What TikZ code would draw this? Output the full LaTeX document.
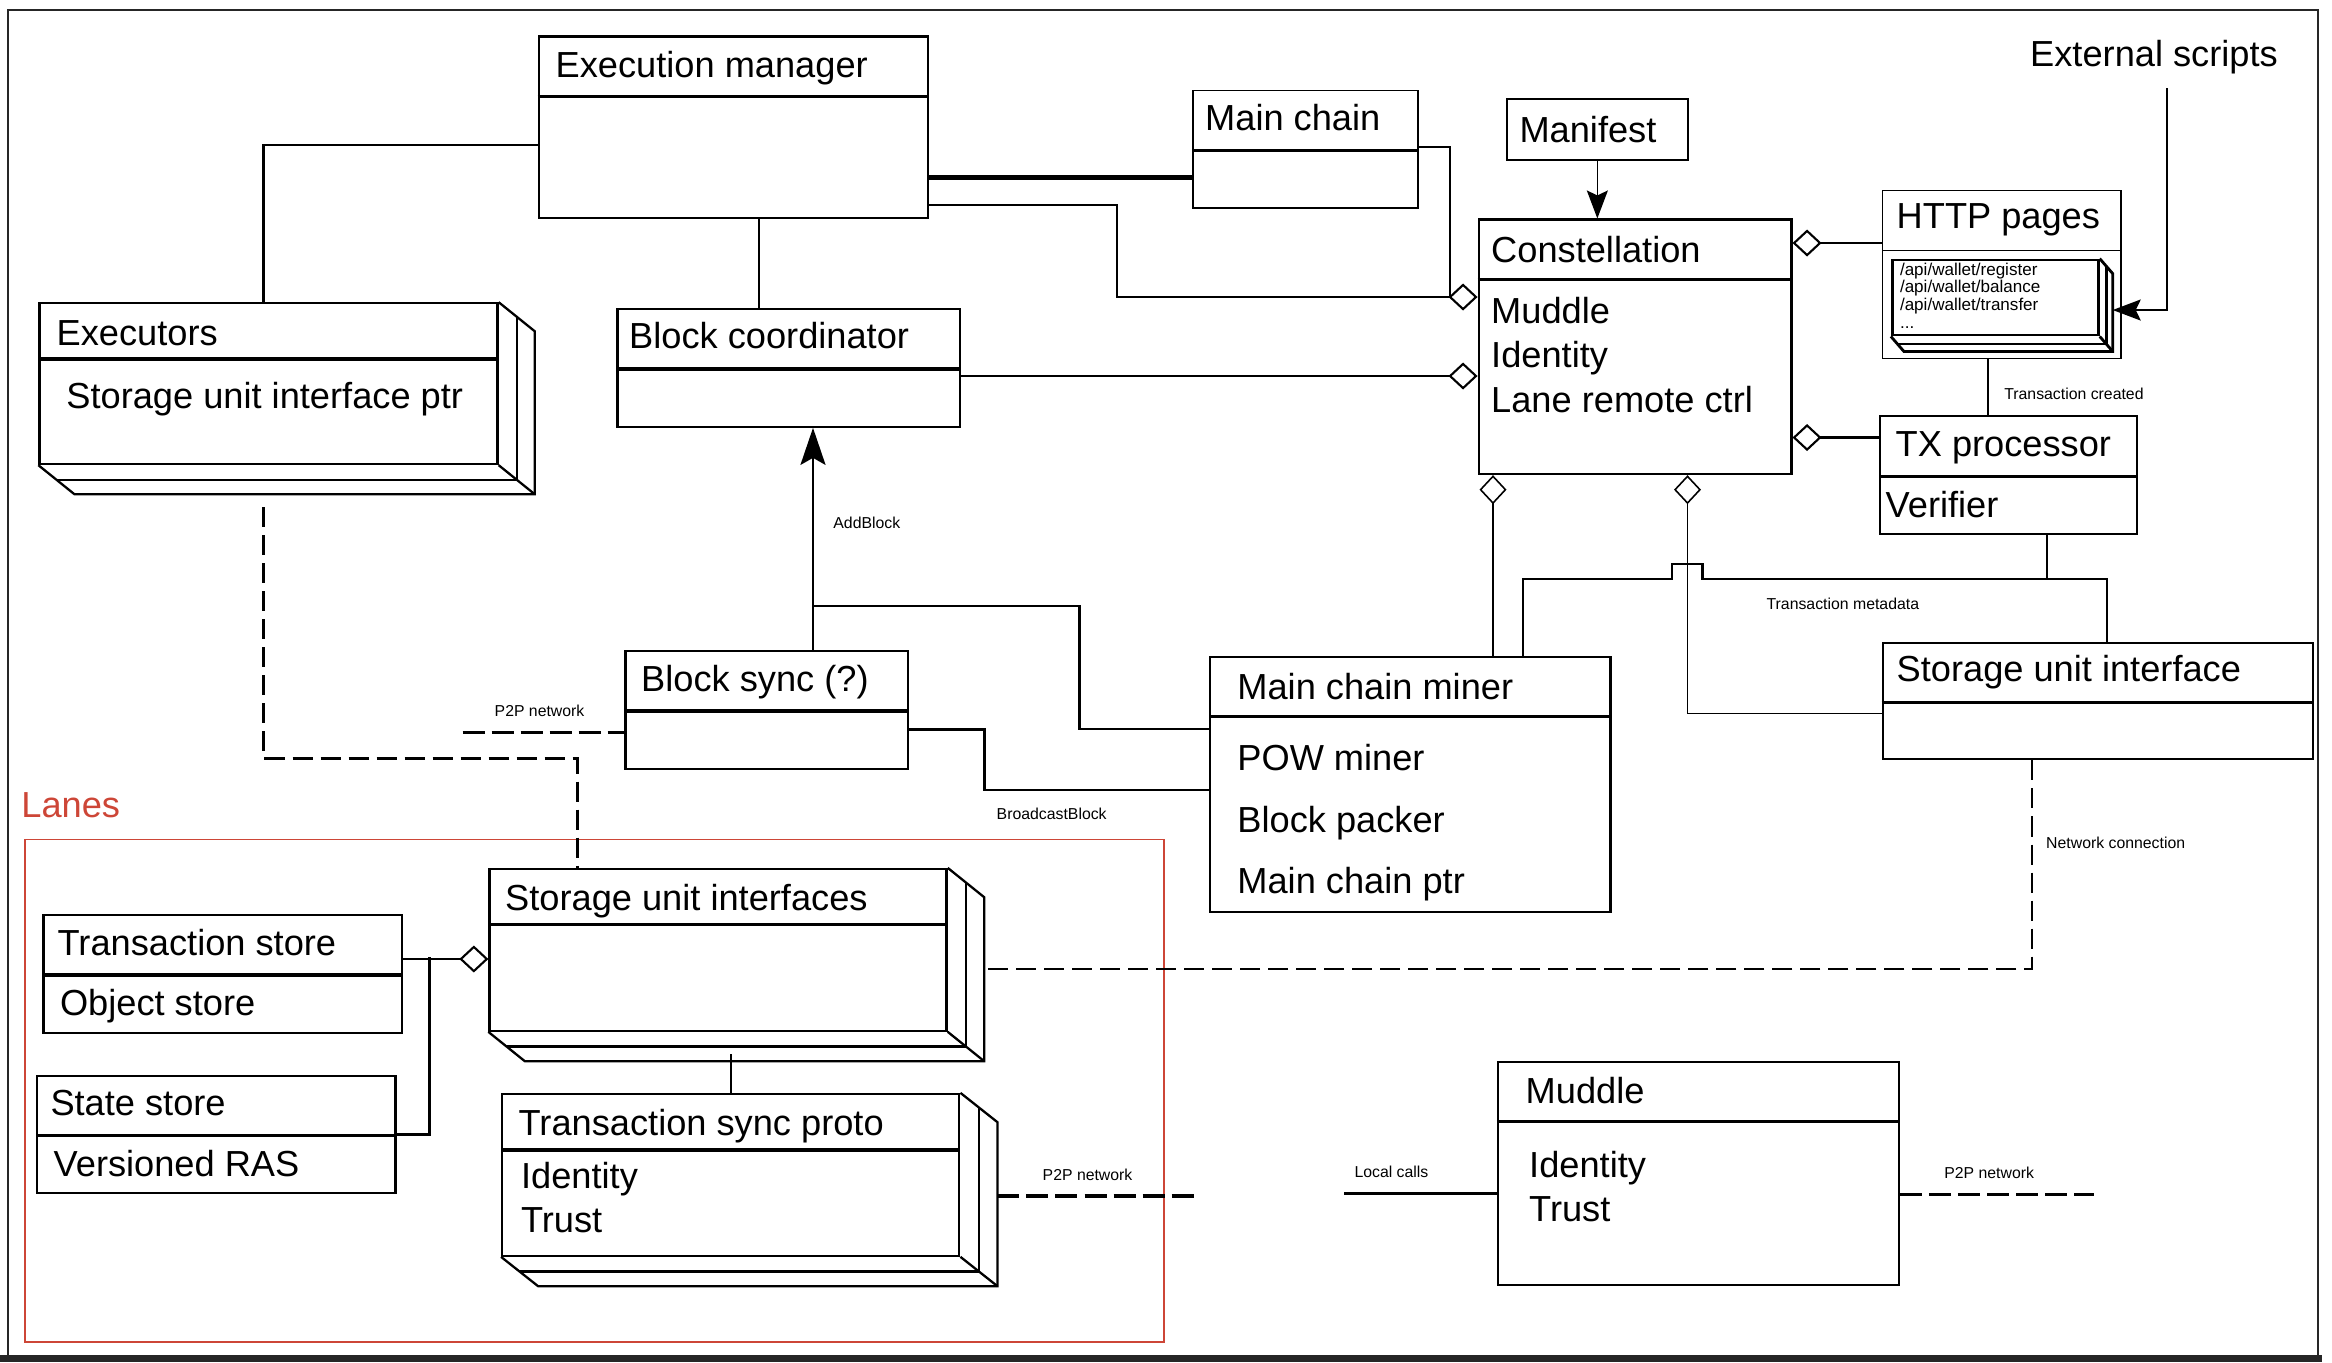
\documentclass[tikz,border=0pt]{standalone}
\usepackage{fontspec}
\setmainfont{Liberation Sans}
\usetikzlibrary{arrows.meta,fit}

\definecolor{lanered}{RGB}{205,70,55}

\newcommand\bigfont{\fontsize{10.3}{12}\selectfont}
\newcommand\smallfont{\fontsize{4.5}{5.4}\selectfont}
\newcommand\apifont{\fontsize{4.85}{5.8}\selectfont}

\tikzset{
  classbox/.style={draw, line width=0.65pt, inner sep=0pt},
  splitline/.style={line width=0.9pt},
  stackline/.style={line width=0.65pt},
  apiline/.style={line width=0.8pt},
  txt/.style={anchor=base west, inner sep=0pt, font=\bigfont},
  note/.style={anchor=base west, inner sep=0pt, font=\smallfont},
  apitxt/.style={anchor=base west, inner sep=0pt, font=\apifont},
  thinconn/.style={line width=0.45pt},
  conn/.style={line width=0.6pt},
  heavyconn/.style={line width=0.8pt},
  linkline/.style={line width=1.2pt},
  dashconn/.style={line width=0.75pt, dash pattern=on 0.2cm off 0.08cm},
  netline/.style={line width=1pt, dash pattern=on 0.22cm off 0.07cm},
  agg/.style={-{Diamond[open,length=0.29cm,width=0.27cm]}},
  arr/.style={-{Stealth[length=0.28cm,width=0.21cm,inset=0.05cm]}},
  bigarr/.style={-{Stealth[length=0.37cm,width=0.25cm,inset=0.07cm]}},
}

% class box: [options] name, corner, corner, y of the split line
\newcommand\classbox[5][]{%
  \node[classbox,#1,fit={(#3) (#4)}] (#2) {};
  \draw[splitline] (#2.west |- 0,#5) -- (#2.east |- 0,#5);
}

% stacked copies behind a box: [style] name, dx, dy
\newcommand\stackback[4][stackline]{%
  \draw[#1] (#2.north east) -- ++(#3,#4) |- ([shift={(#3,#4)}]#2.south west) -- (#2.south west);
  \draw[#1] (#2.south east) -- ++(#3,#4);
  \draw[#1] ([shift={(#3/2,#4/2)}]#2.north east) |- ([shift={(#3/2,#4/2)}]#2.south west);
  \coordinate (#2-back) at ([shift={(#3,#4)}]#2.south east);
}

\begin{document}
\begin{tikzpicture}[x=0.01cm, y=-0.01cm]
  \useasboundingbox (0,0) rectangle (2332,1362);
  \draw[line width=0.5pt, black!85] (8,10) rectangle (2318,1357);
  \fill[black!85] (0,1355) rectangle (2322,1362);

  % upper part
  \classbox[line width=0.8pt]{exec}{539,36.7}{928,218}{96.7}
  \node[txt] (exec-title) at (555,77.3) {Execution manager};

  \classbox{executors}{39.5,303.3}{497.5,464}{359}
  \stackback{executors}{36}{29}
  \node[txt] (executors-title) at (56,345) {Executors};
  \node[txt] (executors-ptr) at (65.7,408) {Storage unit interface ptr};

  \classbox{blockcoord}{617.6,309}{960,426.7}{369}
  \node[txt] (blockcoord-title) at (628.5,348.3) {Block coordinator};

  \classbox[line width=0.5pt]{mainchain}{1192.7,90.4}{1418,208}{150.7}
  \node[txt] (mainchain-title) at (1204.5,130.4) {Main chain};

  \node[classbox, fit={(1507,99.3) (1687.7,160)}] (manifest) {};
  \node[txt] (manifest-title) at (1518.8,142.9) {Manifest};

  \classbox{constellation}{1478.7,219.6}{1791.4,474}{279.6}
  \node[txt] (constellation-title) at (1490.5,262.5) {Constellation};
  \foreach \entry [count=\i] in {Muddle, Identity, Lane remote ctrl}
    \node[txt] (constellation-\i) at (1490.5,{278.6+\i*44.6}) {\entry};

  \begin{scope}[splitline/.style={line width=0.4pt}]
    \classbox[line width=0.4pt]{http}{1882.7,190.7}{2121,358.3}{250.7}
  \end{scope}
  \node[txt] (http-title) at (1896,228.6) {HTTP pages};
  \node[classbox, line width=0.8pt, fit={(1892.3,260) (2098.3,335)}] (api) {};
  \stackback[apiline]{api}{13}{15}
  \foreach \entry [count=\i] in {/api/wallet/register, /api/wallet/balance, /api/wallet/transfer}
    \node[apitxt] (api-\i) at (1899.3,{257.3+\i*17.7}) {\entry};
  \node[apitxt] (api-4) at (1899.3,328) {...};

  \node[txt, inner ysep=4pt] (extscripts) at (2029.5,66) {External scripts};

  \classbox[line width=0.45pt]{txproc}{1880,416}{2137,534}{476.8}
  \node[txt] (txproc-title) at (1895,456.4) {TX processor};
  \node[txt] (txproc-verifier) at (1885,517) {Verifier};

  \classbox{blocksync}{625.5,651.3}{907.8,769.3}{711}
  \node[txt] (blocksync-title) at (640.5,691.7) {Block sync (?)};

  \classbox{miner}{1210.3,656.7}{1610.6,911.7}{716.7}
  \node[txt] (miner-title) at (1236.7,699.3) {Main chain miner};
  \foreach \entry [count=\i] in {POW miner, Block packer, Main chain ptr}
    \node[txt] (miner-\i) at (1236.7,{709.4+\i*61.3}) {\entry};

  \classbox{sui}{1882.7,642.7}{2313,759.3}{702.3}
  \node[txt] (sui-title) at (1896,681.7) {Storage unit interface};

  % lanes
  \node[draw=lanered, line width=0.45pt, inner sep=0pt, fit={(25,839.3) (1164,1341.7)}] (lanes) {};
  \node[txt, text=lanered] (lanes-title) at (20.7,817.3) {Lanes};

  \classbox{suis}{489.5,869}{946.6,1030.7}{924.3}
  \stackback{suis}{36.4}{29.3}
  \node[txt] (suis-title) at (504.5,910) {Storage unit interfaces};

  \classbox{txstore}{43.5,915.3}{401.7,1032.7}{975}
  \node[txt] (txstore-title) at (57,955) {Transaction store};
  \node[txt] (txstore-objects) at (59.3,1015) {Object store};

  \classbox{statestore}{37.2,1076}{395.4,1193.3}{1135.7}
  \node[txt] (statestore-title) at (49.8,1115) {State store};
  \node[txt] (statestore-ras) at (53,1176.7) {Versioned RAS};

  \classbox{txsync}{502.2,1094}{959.3,1255.7}{1150}
  \stackback{txsync}{37}{29.3}
  \node[txt] (txsync-title) at (518,1135) {Transaction sync proto};
  \node[txt] (txsync-1) at (520.4,1188.3) {Identity};
  \node[txt] (txsync-2) at (520.4,1232.7) {Trust};

  \classbox{muddle}{1498,1062.3}{1898.8,1285}{1121.7}
  \node[txt] (muddle-title) at (1525,1103.3) {Muddle};
  \node[txt] (muddle-1) at (1528.5,1177.3) {Identity};
  \node[txt] (muddle-2) at (1528.5,1221.7) {Trust};

  % connector labels
  \node[note] (lbl-txcreated) at (2003.6,399.3) {Transaction created};
  \node[note] (lbl-txmeta) at (1765.9,609.3) {Transaction metadata};
  \node[note] (lbl-netconn) at (2045.5,848.3) {Network connection};
  \node[note] (lbl-addblock) at (832.7,528.3) {AddBlock};
  \node[note] (lbl-p2p-sync) at (494,716) {P2P network};
  \node[note] (lbl-broadcast) at (996,819) {BroadcastBlock};
  \node[note] (lbl-p2p-txsync) at (1042,1180) {P2P network};
  \node[note] (lbl-local) at (1353.8,1177.3) {Local calls};
  \node[note] (lbl-p2p-muddle) at (1943.6,1178.3) {P2P network};

  % connectors
  \draw[conn] (exec.west |- 0,145) -| (executors.north -| 263.5,0);
  \draw[thinconn] (exec.south -| 759,0) -- (blockcoord.north -| 759,0);
  \draw[linkline] (exec.east |- 0,177.5) -- (mainchain.west |- 0,177.5);
  \draw[conn, agg] (exec.east |- 0,205) -| (1117,297) -- (constellation.west |- 0,297);
  \draw[conn] (mainchain.east |- 0,147) -| (1450,297);
  \draw[conn, agg] (blockcoord.east |- 0,376) -- (constellation.west |- 0,376);
  \draw[thinconn, arr] (manifest.south) -- (manifest.south |- constellation.north);
  \draw[conn, agg] (http.west |- 0,243) -- (constellation.east |- 0,243);
  \draw[conn, agg] (txproc.west |- 0,437.5) -- (constellation.east |- 0,437.5);
  \draw[conn, arr] (extscripts.south -| 2167,0) |- (api-back |- 0,310);
  \draw[conn] (http.south -| 1988,0) -- (txproc.north -| 1988,0);

  \draw[thinconn, agg] (miner.north -| 1493,0) -- (constellation.south -| 1493,0);
  \draw[thinconn, agg] (sui.west |- 0,713.3) -| (constellation.south -| 1687.5,0);
  \draw[heavyconn] (txproc.south -| 2047,0) -- (2047,579);
  \draw[heavyconn] (miner.north -| 1523,0) |- (1672,579) -- (1672,564) -- (1702.5,564)
    -- (1702.5,579) -| (sui.north -| 2107,0);

  \draw[conn] (blocksync.north -| 813,0) -- (813,605.7);
  \draw[conn, bigarr] (miner.west |- 0,729.3) -| (1079.5,605.7) -| (blockcoord.south -| 813,0);
  \draw[heavyconn] (blocksync.east |- 0,729.3) -| (984.5,790) -- (miner.west |- 0,790);
  \coordinate (p2p-sync) at (462.6,732.3);
  \draw[netline] (p2p-sync) -- (blocksync.west |- p2p-sync);

  \draw[dashconn] ([shift={(-5,42)}]executors.south) |- (577.3,758.3) -- (suis.north -| 577.3,0);
  \draw[dashconn] (sui.south -| 2032,0) |- (suis-back |- 0,969);

  \draw[conn, agg] (txstore.east |- 0,959) -- (suis.west |- 0,959);
  \draw[heavyconn] (statestore.east |- 0,1134.3) -| (429.4,957);
  \draw[thinconn] (txsync.north) -- (txsync.north |- 0,1054);

  \coordinate (p2p-txsync) at (1194,1196);
  \draw[netline] (txsync-back |- p2p-txsync) -- (p2p-txsync);
  \coordinate (local-calls) at (1344.4,1193.3);
  \draw[line width=0.9pt] (local-calls) -- (muddle.west |- local-calls);
  \coordinate (p2p-muddle) at (2093.7,1194.3);
  \draw[netline] (muddle.east |- p2p-muddle) -- (p2p-muddle);
\end{tikzpicture}
\end{document}
